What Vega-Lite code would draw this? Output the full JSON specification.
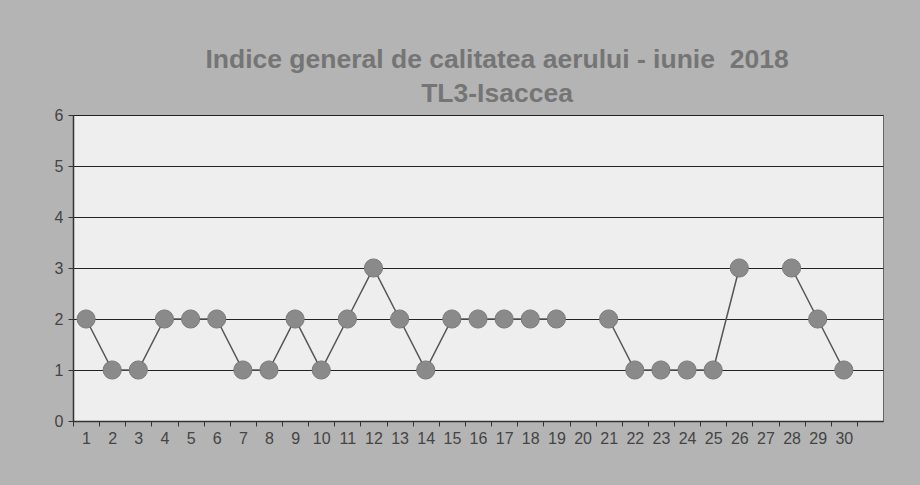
{
  "$schema": "https://vega.github.io/schema/vega-lite/v6.json",
  "width": 810,
  "height": 306,
  "autosize": "none",
  "padding": {"left": 73, "top": 115, "right": 37, "bottom": 64},
  "background": "#b4b4b4",
  "title": {
    "text": ["Indice general de calitatea aerului - iunie \u00a02018", "TL3-Isaccea"],
    "anchor": "middle",
    "dx": 19,
    "offset": 0,
    "font": "Liberation Sans",
    "fontSize": 26.5,
    "fontWeight": "bold",
    "color": "#757575",
    "lineHeight": 34
  },
  "config": {
    "view": {"fill": "#eeeeee", "stroke": "#666666", "strokeWidth": 1},
    "axis": {"labelFont": "Liberation Sans", "labelColor": "#444444", "domainColor": "#333333", "tickColor": "#333333"}
  },
  "data": {
    "values": [
      {"day": 1, "value": 2}, {"day": 2, "value": 1}, {"day": 3, "value": 1}, {"day": 4, "value": 2},
      {"day": 5, "value": 2}, {"day": 6, "value": 2}, {"day": 7, "value": 1}, {"day": 8, "value": 1},
      {"day": 9, "value": 2}, {"day": 10, "value": 1}, {"day": 11, "value": 2}, {"day": 12, "value": 3},
      {"day": 13, "value": 2}, {"day": 14, "value": 1}, {"day": 15, "value": 2}, {"day": 16, "value": 2},
      {"day": 17, "value": 2}, {"day": 18, "value": 2}, {"day": 19, "value": 2}, {"day": 20, "value": null},
      {"day": 21, "value": 2}, {"day": 22, "value": 1}, {"day": 23, "value": 1}, {"day": 24, "value": 1},
      {"day": 25, "value": 1}, {"day": 26, "value": 3}, {"day": 27, "value": null}, {"day": 28, "value": 3},
      {"day": 29, "value": 2}, {"day": 30, "value": 1}
    ]
  },
  "encoding": {
    "x": {
      "field": "day",
      "type": "ordinal",
      "scale": {"domain": [1,2,3,4,5,6,7,8,9,10,11,12,13,14,15,16,17,18,19,20,21,22,23,24,25,26,27,28,29,30,31], "paddingInner": 0, "paddingOuter": 0},
      "axis": {
        "title": null,
        "labelAngle": 0,
        "labelFontSize": 16,
        "labelExpr": "datum.value == 31 ? '' : datum.label",
        "tickOffset": -13,
        "labelOffset": 13,
        "tickSize": 5,
        "labelPadding": 4,
        "grid": false,
        "domainWidth": 1.5
      }
    },
    "y": {
      "field": "value",
      "type": "quantitative",
      "scale": {"domain": [0, 6], "nice": false},
      "axis": {
        "title": null,
        "values": [0,1,2,3,4,5,6],
        "labelFontSize": 16,
        "tickSize": 5,
        "labelPadding": 5,
        "grid": true,
        "gridColor": "#222222",
        "gridWidth": 1,
        "gridOpacity": 1,
        "domainWidth": 1.5
      }
    }
  },
  "layer": [
    {
      "mark": {"type": "line", "color": "#555555", "strokeWidth": 1.5, "invalid": "break-paths-show-domains"}
    },
    {
      "mark": {"type": "point", "filled": true, "shape": "circle", "size": 330, "color": "#8a8a8a", "opacity": 1, "stroke": "#7a7a7a", "strokeWidth": 1},
      "transform": [{"filter": "datum.value != null"}]
    }
  ]
}
